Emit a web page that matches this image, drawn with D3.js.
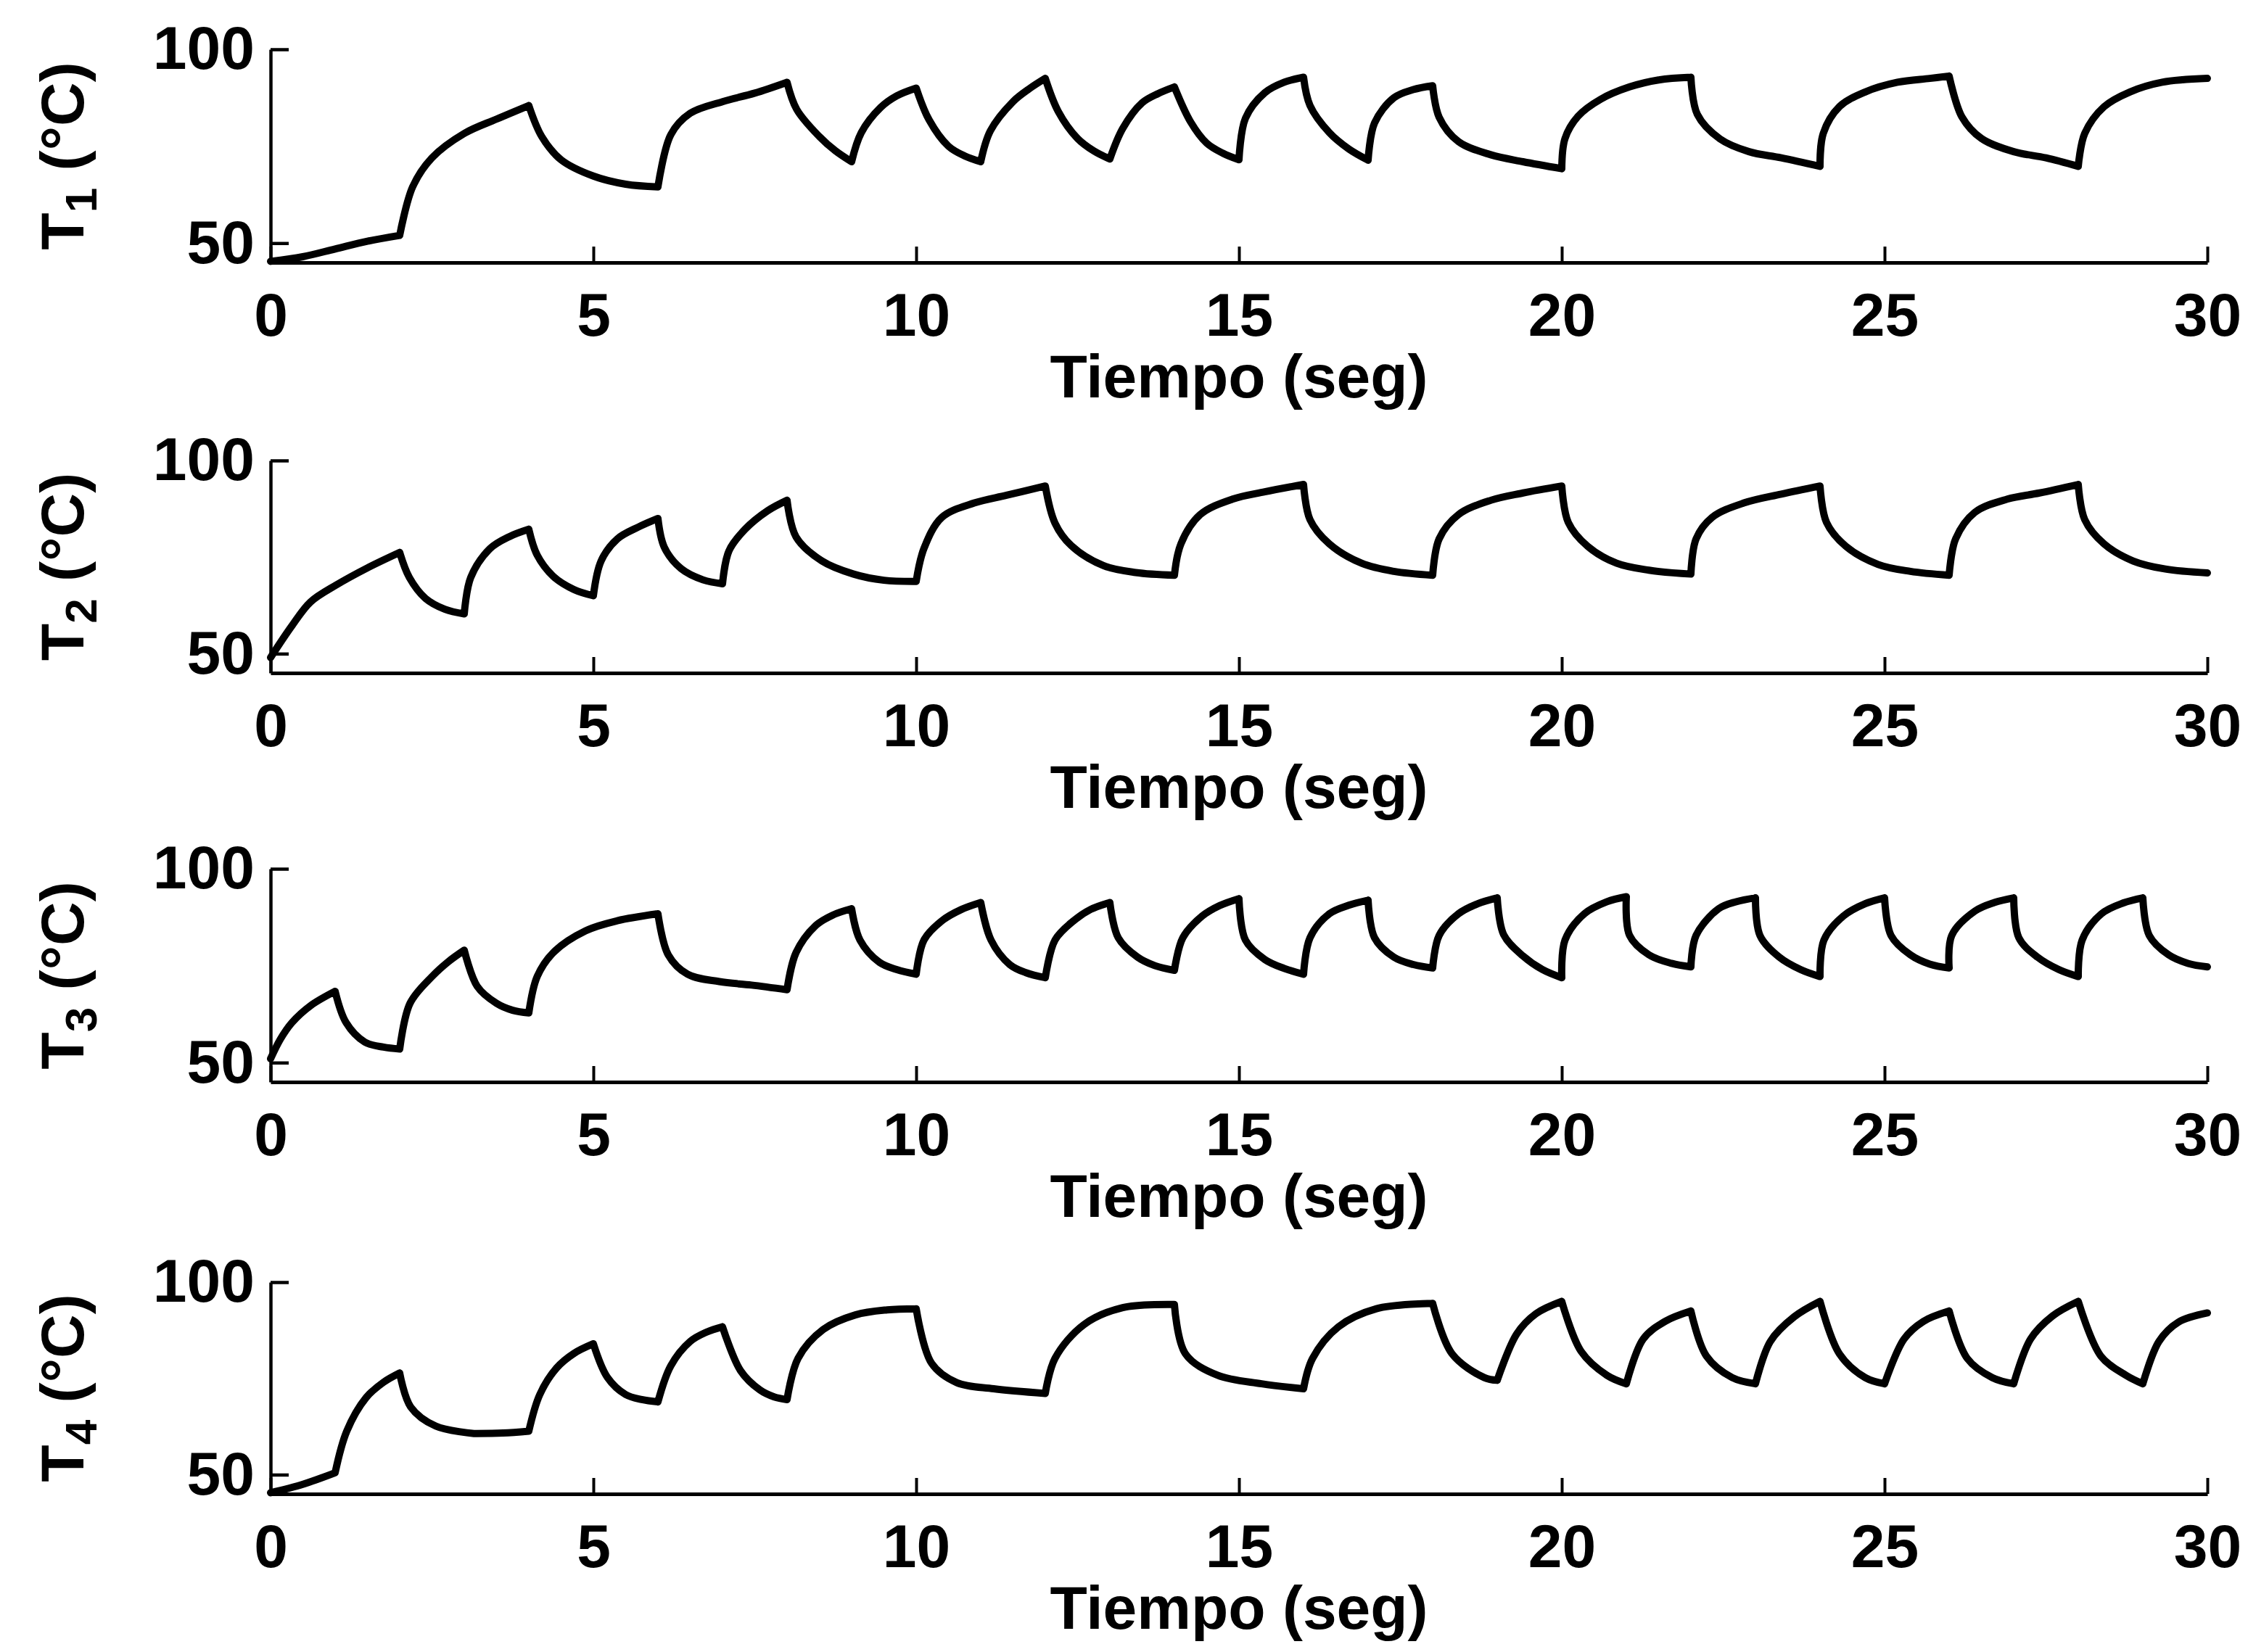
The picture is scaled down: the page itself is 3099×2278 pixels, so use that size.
<!DOCTYPE html>
<html>
<head>
<meta charset="utf-8">
<script src="https://cdn.jsdelivr.net/npm/d3@7"></script>
<style>
  html, body { margin: 0; padding: 0; background: #fff; }
  svg { display: block; }
</style>
</head>
<body>
<script>
// ---- data (time in s, temperature in °C) ----
const TIME_TICKS = [0, 5, 10, 15, 20, 25, 30];
const TEMP_TICKS = [50, 100];
const X_LABEL = "Tiempo (seg)";
const SERIES_NAMES = ["1", "2", "3", "4"];

const T1 = [
  [0,45.3],[0.5,46.5],[1,48.5],[1.5,50.5],[2,52],
  [2.2,64.5],[2.5,72],[3,78.3],[3.5,82],[4,85.5],
  [4.2,77.5],[4.5,71.5],[5,67.3],[5.5,65.2],[6,64.5],
  [6.2,78],[6.5,83.5],[7,86.5],[7.5,88.7],[8,91.5],
  [8.15,84.5],[8.5,77.5],[8.75,73.8],[9,71],
  [9.15,78.5],[9.45,85],[9.7,88],[10,90],
  [10.2,81.8],[10.5,75],[10.75,72.5],[11,71],
  [11.15,79],[11.5,86.5],[11.75,89.8],[12,92.5],
  [12.2,84],[12.5,77],[12.75,73.8],[13,71.7],
  [13.2,79.6],[13.5,86.2],[13.75,88.6],[14,90.3],
  [14.25,81.3],[14.5,75.8],[14.75,73.2],[15,71.5],
  [15.1,82.2],[15.4,88.8],[15.7,91.5],[16,92.8],
  [16.1,85.5],[16.4,78.5],[16.7,74.3],[17,71.4],
  [17.1,81],[17.4,87.5],[17.7,89.6],[18,90.6],
  [18.1,82.5],[18.4,76.2],[18.9,72.8],[19.4,71],[20,69.2],
  [20.05,77],[20.25,82.7],[20.6,87.1],[21.05,90.3],[21.5,92.1],[22,92.8],
  [22.1,83.2],[22.45,76.9],[22.9,73.6],[23.4,72],[24,69.8],
  [24.05,78.3],[24.3,85.2],[24.7,89],[25.2,91.5],[25.7,92.5],[26,93.1],
  [26.2,82.5],[26.5,77],[27,73.6],[27.5,72],[28,69.8],
  [28.1,78.3],[28.4,85.2],[28.8,89],[29.3,91.5],[30,92.5]
];

const T2 = [
  [0,49],[0.33,57.2],[0.62,63.4],[1.02,67.8],[1.5,72.2],[2,76.2],
  [2.15,69.7],[2.4,64.3],[2.7,61.5],[3,60.3],
  [3.1,69.7],[3.4,77.2],[3.7,80.3],[4,82.2],
  [4.13,75.5],[4.38,70],[4.7,66.6],[5,65],
  [5.12,74],[5.37,79.7],[5.7,82.8],[6,85],
  [6.1,77.5],[6.36,72],[6.7,69.1],[7,68.1],
  [7.1,76.6],[7.35,82.2],[7.7,87],[8,89.7],
  [8.14,80.2],[8.54,74],[9.03,70.6],[9.5,69],[10,68.7],
  [10.12,77.2],[10.4,85.3],[10.9,89],[11.4,91],[12,93.4],
  [12.15,83.8],[12.4,78],[12.9,72.8],[13.4,71],[14,70.3],
  [14.1,78.4],[14.4,86],[14.9,90],[15.4,91.9],[16,93.8],
  [16.1,84.7],[16.4,78.4],[16.9,73.4],[17.4,71.3],[18,70.3],
  [18.1,79.7],[18.4,86],[18.9,89.7],[19.4,91.6],[20,93.4],
  [20.1,84],[20.4,77.8],[20.85,73.4],[21.35,71.6],[22,70.6],
  [22.08,79.7],[22.33,85.3],[22.82,89],[23.4,91.3],[24,93.4],
  [24.1,84],[24.4,77.8],[24.9,73.1],[25.4,71.3],[26,70.3],
  [26.1,79.7],[26.4,86.6],[26.9,90],[27.4,91.6],[28,93.8],
  [28.1,84.7],[28.4,78.4],[28.85,74],[29.35,71.9],[30,70.9]
];

const T3 = [
  [0,51],[0.15,56],[0.33,60.3],[0.62,64.7],[1,68.4],
  [1.17,60.3],[1.46,55.3],[1.75,54],[2,53.5],
  [2.16,65.3],[2.5,72.2],[2.75,76],[3,79],
  [3.2,69.7],[3.5,65.3],[3.75,63.5],[4,62.8],
  [4.13,72.2],[4.38,78.4],[4.88,84],[5.37,86.6],[6,88.4],
  [6.16,77.8],[6.46,72.8],[6.95,70.9],[7.45,70],[8,68.8],
  [8.14,78.4],[8.44,85.3],[8.7,88],[9,89.7],
  [9.13,81.6],[9.43,75.9],[9.7,74],[10,72.8],
  [10.12,81.6],[10.4,86.6],[10.7,89.5],[11,91.3],
  [11.16,81.6],[11.45,75.3],[11.7,73.2],[12,71.9],
  [12.15,81.6],[12.44,86.6],[12.7,89.5],[13,91.3],
  [13.13,82.2],[13.43,77.2],[13.7,75],[14,73.8],
  [14.13,82.2],[14.43,87.8],[14.7,90.5],[15,92.3],
  [15.1,81.6],[15.4,76.6],[15.7,74.3],[16,72.8],
  [16.1,82.2],[16.4,88.4],[16.7,90.6],[17,91.9],
  [17.1,82.2],[17.4,77.2],[17.7,75.3],[18,74.4],
  [18.1,82.8],[18.4,88.4],[18.7,91],[19,92.5],
  [19.1,83],[19.4,77.5],[19.7,74],[20,71.9],
  [20.05,81.6],[20.35,88.4],[20.7,91.5],[21,92.8],
  [21.05,82.8],[21.35,77.8],[21.7,75.6],[22,74.7],
  [22.08,82.8],[22.43,89.7],[22.7,91.5],[23,92.5],
  [23.07,82.8],[23.37,77.2],[23.7,74],[24,72.2],
  [24.06,81.6],[24.36,87.8],[24.7,91],[25,92.5],
  [25.1,82.8],[25.4,77.8],[25.7,75.4],[26,74.4],
  [26.04,82.8],[26.4,89.1],[26.7,91.3],[27,92.5],
  [27.08,82.2],[27.37,77.2],[27.7,74],[28,72.2],
  [28.06,81.6],[28.36,88.4],[28.7,91.2],[29,92.5],
  [29.1,82.8],[29.4,77.8],[29.7,75.6],[30,74.7]
];

const T4 = [
  [0,45.3],[0.5,47.5],[1,50.5],
  [1.18,61.3],[1.48,70],[1.75,74],[2,76.4],
  [2.17,67.6],[2.56,62.6],[3.15,60.7],[3.6,60.8],[4,61.3],
  [4.17,70.8],[4.43,77.7],[4.7,81.5],[5,84],
  [5.22,75.2],[5.5,70.8],[5.75,69.5],[6,68.9],
  [6.2,78.3],[6.5,84.6],[6.75,87],[7,88.4],
  [7.28,77],[7.58,72],[7.8,70.2],[8,69.5],
  [8.17,80.2],[8.56,87.7],[9.06,91.5],[9.55,92.8],[10,93.1],
  [10.24,78.9],[10.63,73.9],[11.2,72.3],[12,71.1],
  [12.15,80.2],[12.6,89],[13.2,93.4],[14,94.2],
  [14.17,81.4],[14.67,75.8],[15.35,73.6],[16,72.3],
  [16.14,80.2],[16.54,88.4],[17.13,93.1],[18,94.5],
  [18.3,81.4],[18.8,75.2],[19,74.5],
  [19.3,86.5],[19.6,91.8],[20,95],
  [20.3,82],[20.7,75.8],[21,73.6],
  [21.26,85.2],[21.6,89.8],[22,92.5],
  [22.24,80.8],[22.64,75.2],[23,73.6],
  [23.23,84.6],[23.6,91],[24,95],
  [24.3,81.4],[24.7,75.2],[25,73.6],
  [25.3,85.2],[25.6,89.8],[26,92.5],
  [26.28,80.2],[26.67,75.2],[27,73.6],
  [27.26,85.2],[27.6,91.2],[28,95],
  [28.35,80.8],[28.74,75.8],[29,73.6],
  [29.25,84.6],[29.55,89.6],[30,92]
];

const SERIES = [T1, T2, T3, T4];

// ---- layout ----
const W = 3099, H = 2278;
const X0 = 373, X1 = 3043;
const PANEL_TOP = [68, 635, 1198, 1768];
const PANEL_BOTTOM = [362, 928, 1492, 2060];
const FONT = "'Liberation Sans', Arial, Helvetica, sans-serif";
const FS = 84;

const svg = d3.select("body").append("svg")
  .attr("width", W).attr("height", H)
  .attr("viewBox", `0 0 ${W} ${H}`);
svg.append("rect").attr("width", W).attr("height", H).attr("fill", "#fff");

const x = d3.scaleLinear().domain([0, 30]).range([X0, X1]);

// split a series at heater switch points (direction change or sudden acceleration)
function splitPieces(data) {
  const pieces = [];
  let cur = [data[0]];
  for (let i = 1; i < data.length; i++) {
    cur.push(data[i]);
    if (i < data.length - 1) {
      const s0 = (data[i][1] - data[i-1][1]) / (data[i][0] - data[i-1][0]);
      const s1 = (data[i+1][1] - data[i][1]) / (data[i+1][0] - data[i][0]);
      const turn = s0 * s1 < 0;
      const kick = Math.abs(s1) > 10 && Math.abs(s1) > 1.8 * Math.abs(s0);
      if (turn || kick) { pieces.push(cur); cur = [data[i]]; }
    }
  }
  if (cur.length > 1) pieces.push(cur);
  return pieces;
}

SERIES.forEach((data, i) => {
  const top = PANEL_TOP[i], bottom = PANEL_BOTTOM[i];
  const y = d3.scaleLinear().domain([45, 100]).range([bottom, top]);
  const g = svg.append("g");

  // x axis
  const xa = g.append("g")
    .attr("transform", `translate(0,${bottom})`)
    .call(d3.axisBottom(x).tickValues(TIME_TICKS)
      .tickSizeInner(-22).tickSizeOuter(0).tickPadding(41)
      .tickFormat(d3.format("d")));
  xa.select(".domain").attr("stroke", "#000").attr("stroke-width", 5);
  xa.selectAll(".tick line").attr("stroke", "#000").attr("stroke-width", 4);
  xa.selectAll(".tick text")
    .attr("font-family", FONT).attr("font-weight", "bold")
    .attr("font-size", FS).attr("fill", "#000");

  // y axis
  const ya = g.append("g")
    .attr("transform", `translate(${X0},0)`)
    .call(d3.axisLeft(y).tickValues(TEMP_TICKS)
      .tickSizeInner(-25).tickSizeOuter(0).tickPadding(22)
      .tickFormat(d3.format("d")));
  ya.select(".domain").attr("stroke", "#000").attr("stroke-width", 4.5);
  ya.selectAll(".tick line").attr("stroke", "#000").attr("stroke-width", 4.5);
  ya.selectAll(".tick text")
    .attr("font-family", FONT).attr("font-weight", "bold")
    .attr("font-size", FS).attr("fill", "#000");

  // x label
  g.append("text")
    .attr("x", (X0 + X1) / 2).attr("y", bottom + 186)
    .attr("text-anchor", "middle")
    .attr("font-family", FONT).attr("font-weight", "bold")
    .attr("font-size", FS).attr("fill", "#000")
    .text(X_LABEL);

  // y label  T_i (°C)
  const yl = g.append("text")
    .attr("transform", `translate(115,${(top + bottom) / 2}) rotate(-90)`)
    .attr("text-anchor", "middle")
    .attr("font-family", FONT).attr("font-weight", "bold")
    .attr("font-size", FS).attr("fill", "#000");
  yl.append("tspan").text("T");
  yl.append("tspan").attr("font-size", 62).attr("dy", 18).text(SERIES_NAMES[i]);
  yl.append("tspan").attr("dy", -18).text(" (°C)");

  // data line: smooth pieces joined at the switching corners
  const line = d3.line()
    .x(d => x(d[0])).y(d => y(d[1]))
    .curve(d3.curveCatmullRom.alpha(0.5));
  const pathD = splitPieces(data).map(p => line(p)).join("");
  g.append("path")
    .datum(data)
    .attr("d", pathD)
    .attr("fill", "none")
    .attr("stroke", "#000")
    .attr("stroke-width", 10)
    .attr("stroke-linejoin", "round")
    .attr("stroke-linecap", "round");
});
</script>
</body>
</html>
